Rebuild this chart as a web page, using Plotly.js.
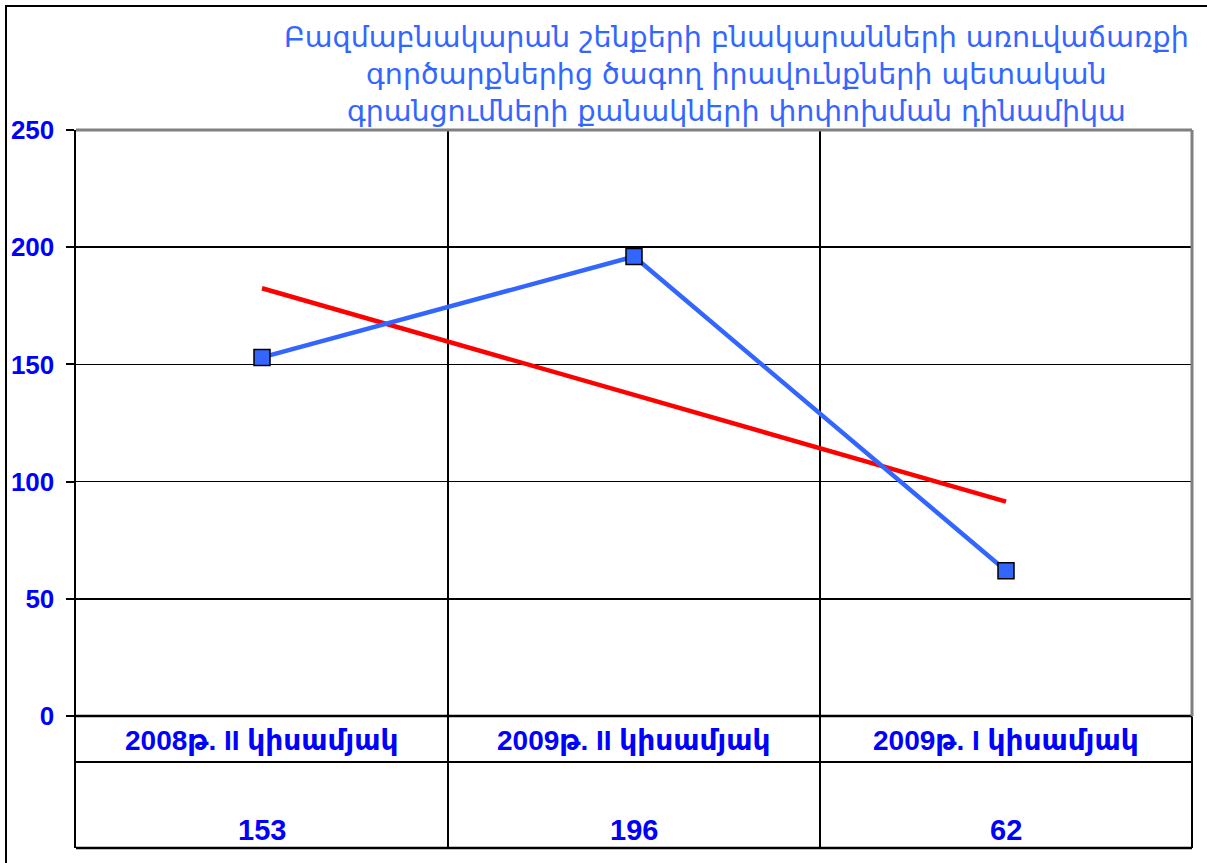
<!DOCTYPE html>
<html>
<head>
<meta charset="utf-8">
<script src="https://cdn.plot.ly/plotly-3.0.1.min.js"></script>
<style>
  html, body { margin: 0; padding: 0; background: #fff; }
  #wrap { position: relative; width: 1207px; height: 863px; overflow: hidden; }
  #chart { position: absolute; left: 0; top: 0; width: 1207px; height: 863px; }
  #frame { position: absolute; left: 5px; top: 5px; width: 1230px; height: 900px;
           border-left: 2.5px solid #000; border-top: 2.5px solid #000; pointer-events: none; }
</style>
</head>
<body>
<div id="wrap">
  <div id="chart"></div>
  <div id="frame"></div>
</div>
<script>
// ---- data ----
const titleLines = [
  "Բազմաբնակարան շենքերի բնակարանների առուվաճառքի",
  "գործարքներից ծագող իրավունքների պետական",
  "գրանցումների քանակների փոփոխման դինամիկա"
];
const categories = ["2008թ. II կիսամյակ", "2009թ. II կիսամյակ", "2009թ. I կիսամյակ"];
const values = [153, 196, 62];
const trendValues = [182.5, 91.5];
const trendCategories = [categories[0], categories[2]];
const yTicks = [0, 50, 100, 150, 200, 250];

// ---- styling / layout ----
const FONT = "Arial, 'Liberation Sans', 'DejaVu Sans', sans-serif";
const TABLE_SPLIT = -19.6;   // row separator in the data table (below 0)
const CAT_ROW_Y = -10.5;
const VAL_ROW_Y = -48.5;

const traces = [
  {
    x: trendCategories, y: trendValues, type: "scatter", mode: "lines",
    line: { color: "#FF0000", width: 4.5 },
    hoverinfo: "skip", showlegend: false
  },
  {
    x: categories, y: values, type: "scatter", mode: "lines+markers",
    line: { color: "#3366FF", width: 4.5 },
    marker: { symbol: "square", size: 16, color: "#3366FF", line: { color: "#000", width: 1.5 } },
    hoverinfo: "x+y", showlegend: false
  }
];

const annotations = [];
categories.forEach((c, i) => {
  annotations.push({
    x: c, y: CAT_ROW_Y, xref: "x", yref: "y", text: c, showarrow: false,
    font: { family: FONT, size: 28, color: "#0000FF", weight: "bold" }, xanchor: "center", yanchor: "middle"
  });
  annotations.push({
    x: c, y: VAL_ROW_Y, xref: "x", yref: "y", text: String(values[i]), showarrow: false,
    font: { family: FONT, size: 29, color: "#0000FF", weight: "bold" }, xanchor: "center", yanchor: "middle"
  });
});
annotations.push({
  x: 0.592, y: 1.077, xref: "paper", yref: "paper", xanchor: "center", yanchor: "middle",
  text: titleLines.join("<br>"), showarrow: false, align: "center",
  font: { family: "'DejaVu Sans', sans-serif", size: 28.5, color: "#3366FF" }
});

const shapes = [
  { type: "line", xref: "paper", yref: "y", x0: 0, x1: 1, y0: TABLE_SPLIT, y1: TABLE_SPLIT, line: { color: "#000", width: 2 } },
  { type: "line", xref: "paper", yref: "y", x0: 0, x1: 1, y0: 0, y1: 0, line: { color: "#000", width: 2.5 } },
  { type: "line", xref: "paper", yref: "paper", x0: 0, x1: 1, y0: 0, y1: 0, line: { color: "#000", width: 2.5 } },
  { type: "line", xref: "paper", yref: "paper", x0: 0, x1: 1, y0: 1, y1: 1, line: { color: "#808080", width: 3 } },
  { type: "line", xref: "paper", yref: "y", x0: 1, x1: 1, y0: 0, y1: 250, line: { color: "#808080", width: 3 } },
  { type: "line", xref: "paper", yref: "paper", x0: 1, x1: 1, y0: 0, y1: 0.183, line: { color: "#000", width: 2 } }
];

const layout = {
  width: 1207, height: 863,
  margin: { l: 76, r: 15, t: 130, b: 15, pad: 0 },
  paper_bgcolor: "#fff", plot_bgcolor: "#fff",
  font: { family: FONT, color: "#0000FF" },
  showlegend: false,
  xaxis: {
    type: "category", categoryorder: "array", categoryarray: categories,
    range: [-0.5, 2.5], tickson: "boundaries",
    showgrid: true, gridcolor: "#000", gridwidth: 2,
    showticklabels: false, ticks: "", showline: false, zeroline: false, fixedrange: true
  },
  yaxis: {
    range: [-56.3, 250], tickvals: yTicks, ticktext: yTicks.map(String),
    showgrid: true, gridcolor: "#000", gridwidth: 1.5, zeroline: false,
    showline: true, linecolor: "#000", linewidth: 2.5,
    ticks: "outside", ticklen: 8, tickwidth: 2, tickcolor: "#000",
    tickfont: { family: FONT, size: 26, color: "#0000FF", weight: "bold" },
    ticklabelstandoff: 6, fixedrange: true
  },
  shapes: shapes,
  annotations: annotations
};

Plotly.newPlot("chart", traces, layout, { staticPlot: true, displayModeBar: false });
</script>
</body>
</html>
